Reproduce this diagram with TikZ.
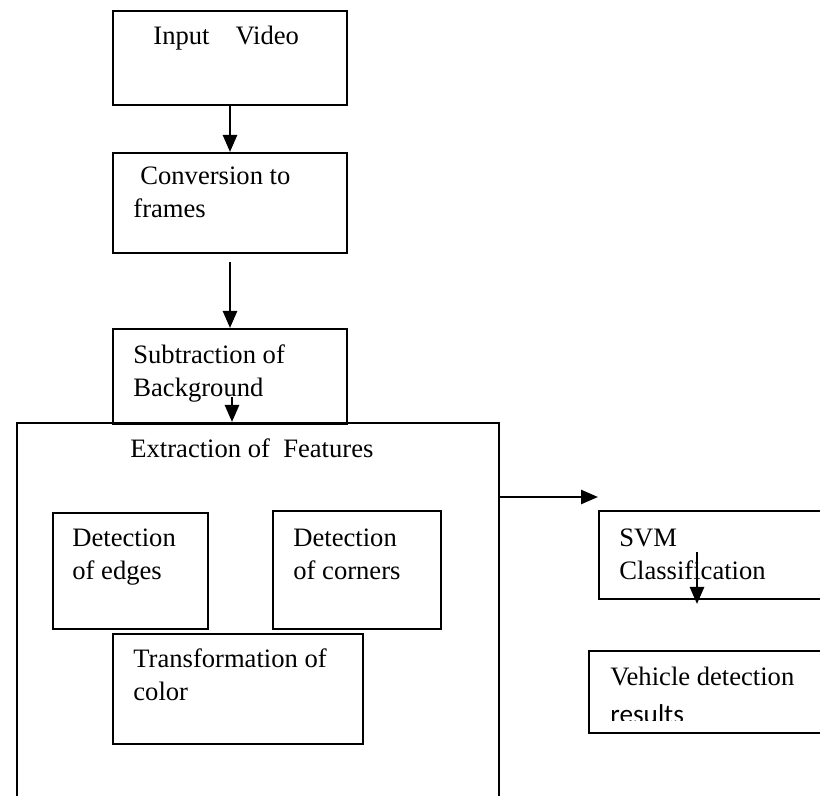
\documentclass[tikz,border=0pt]{standalone}
\usepackage{fontspec}
\setmainfont{Liberation Serif}
\newfontfamily\calibrifont{Carlito}
\usepackage{tikz}
\usetikzlibrary{arrows.meta}
\usetikzlibrary{positioning}

\begin{document}
\begin{tikzpicture}[x=0.5pt,y=0.5pt,yscale=-1,xscale=1,
  box/.style={draw,line width=1pt,rectangle,anchor=north west,inner sep=0pt},
  lbl/.style={anchor=base west,inner sep=0pt,align=left,font=\fontsize{13.3}{16.5}\selectfont}]
  \tikzstyle{arrow} = [line width=1.3pt,-{Triangle[length=8.5pt,width=7pt]}]
  %set diagram size, 820 by 796
  \clip (0,0) rectangle (820,796);
  \fill[white] (0,0) rectangle (820,796);
%Draw the boxes down the left
 \node[box,minimum width=117pt,minimum height=47pt] (input) at (112,10) {};
 \node[box,minimum width=117pt,minimum height=50pt] (conv) at (112,152) {};
 \node[box,minimum width=117pt,minimum height=47.5pt] (subtr) at (112,328) {};
 \node[box,minimum width=241pt,minimum height=220pt] (feat) at (16,422) {};
%Draw the feature boxes
 \node[box,minimum width=77.5pt,minimum height=58pt] (edges) at (52,512) {};
 \node[box,minimum width=84pt,minimum height=59pt] (corners) at (272,510) {};
 \node[box,minimum width=125pt,minimum height=55pt] (color) at (112,633) {};
%Draw the boxes on the right
 \node[box,minimum width=120pt,minimum height=44pt] (svm) at (598,510) {};
 \node[box,minimum width=125pt,minimum height=41pt] (vehicle) at (588,650) {};

  % Label the boxes (base is the last line)
  \node[lbl] (inputtxt) at (153,45) {Input\hspace{13pt}Video};
  \node[lbl] (convtxt) at (133,218) {\hspace{3.5pt}Conversion to\\frames};
  \node[lbl] (subtrtxt) at (133,397) {Subtraction of\\Background};
  \node[lbl] (feattxt) at (130,458) {Extraction of\ \ Features};
  \node[lbl] (edgestxt) at (72,580) {Detection\\of edges};
  \node[lbl] (cornerstxt) at (293,580) {Detection\\of corners};
  \node[lbl] (colortxt) at (133,700) {Transformation of\\color};
  \node[lbl] (svmtxt) at (619,580) {SVM\\Classification};
  \node[lbl] (vehicletxt) at (610,685) {Vehicle detection};
  \begin{scope}
   \clip (590,698) rectangle (820,720);
   \node[lbl,font=\calibrifont\fontsize{13.6}{16.5}\selectfont] (resultstxt) at (610,723) {results};
  \end{scope}

% Draw the arrows
 \coordinate (convout) at (230,262);
 \coordinate (subtrout) at (232,397);
 \coordinate (featout) at (498,497);
 \coordinate (svmin) at (598,497);
 \coordinate (svmout) at (697,552);
 \coordinate (vehiclein) at (697,604);
 \draw [arrow] (input.south) -- (conv.north);
 \draw [arrow] (convout) -- (subtr.north);
 \draw [arrow] (subtrout) -- (subtrout |- feat.north);
 \draw [arrow] (featout) -- (svmin);
 \draw [arrow] (svmout) -- (vehiclein);
  \end{tikzpicture}
\end{document}
